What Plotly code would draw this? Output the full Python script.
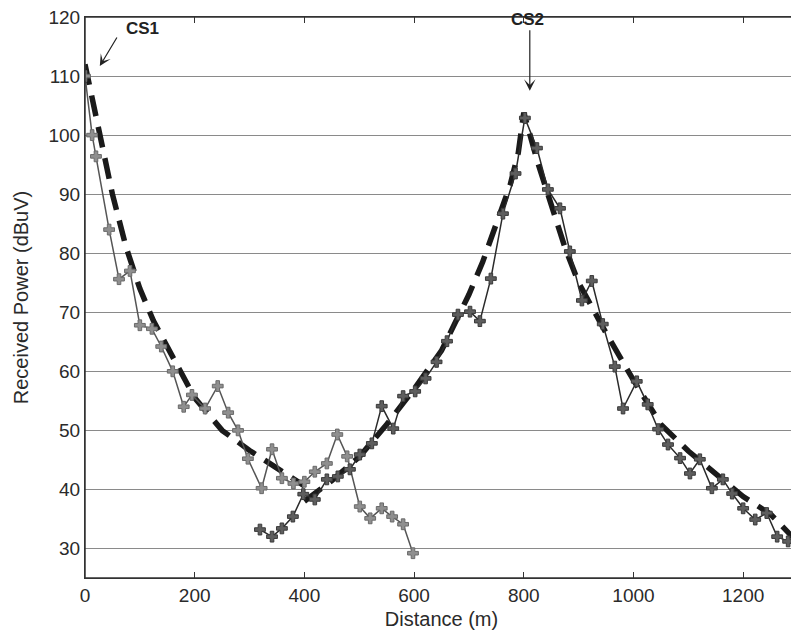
import plotly.graph_objects as go

# Measured received power, CS1 side (m, dBuV)
cs1_dist = [0, 13, 20, 44, 62, 82, 100, 122, 139, 160, 180, 195, 219, 242, 261, 279,
            297, 322, 341, 359, 380, 400, 419, 441, 460, 478, 501, 520, 541, 560, 580, 598]
cs1_power = [110, 100, 96.4, 84, 75.6, 77, 67.8, 67.2, 64.2, 60, 54, 56, 53.7, 57.5, 53, 50,
             45.2, 40.2, 46.8, 41.9, 41, 41.3, 43, 44.4, 49.3, 45.6, 37.1, 35.1, 36.8, 35.4, 34.1, 29.2]

# Measured received power, CS2 side
cs2_dist = [319, 341, 359, 379, 398, 419, 441, 461, 483, 501, 523, 541, 562, 580, 602, 621,
            641, 660, 680, 702, 720, 740, 762, 785, 802, 824, 844, 866, 884, 906, 924, 944,
            966, 981, 1006, 1026, 1045, 1063, 1085, 1103, 1121, 1143, 1163, 1180, 1200, 1222,
            1243, 1262, 1282, 1298]
cs2_power = [33.2, 32, 33.4, 35.4, 39.2, 38.3, 41.7, 42.2, 43.4, 45.9, 47.8, 54.1, 50.3, 55.8, 56.6, 58.8,
             61.6, 65.1, 69.6, 70.1, 68.5, 75.7, 86.7, 93.5, 102.9, 97.8, 90.8, 87.6, 80.3, 72, 75.3, 68,
             60.8, 53.7, 58.3, 54.4, 50.2, 47.6, 45.3, 42.7, 45.1, 40.2, 41.7, 39.3, 36.8, 34.9,
             36, 32, 31.2, 30.3]

# Model (dashed) curves
model1_dist = [0, 25, 50, 75, 100, 125, 150, 175, 200, 250, 300, 350, 400]
model1_power = [112, 101.5, 90, 81, 74, 68.5, 64, 60, 55.5, 50, 46.6, 43.6, 40.6]

model2_dist = [400, 450, 500, 550, 600, 650, 700, 725, 750, 775, 790, 800, 825, 850, 875, 900,
               950, 1000, 1050, 1100, 1150, 1200, 1250, 1300]
model2_power = [38, 41.5, 45.5, 51, 57, 63.5, 73, 78.5, 85, 91.5, 97, 103.8, 95.5, 88, 81, 75,
                66.5, 58.5, 51, 46.5, 42.5, 38.8, 35.8, 31]

x_ticks = [0, 200, 400, 600, 800, 1000, 1200]
y_ticks = [30, 40, 50, 60, 70, 80, 90, 100, 110, 120]

fig = go.Figure()

dash_style = "21px,11px"
fig.add_scatter(x=model1_dist, y=model1_power, mode="lines",
                line={"color": "#1a1a1a", "width": 5.5, "dash": dash_style})
fig.add_scatter(x=model2_dist, y=model2_power, mode="lines",
                line={"color": "#1a1a1a", "width": 5.5, "dash": dash_style})

fig.add_scatter(x=cs1_dist, y=cs1_power, mode="lines+markers",
                line={"color": "#555555", "width": 1.5},
                marker={"symbol": "cross", "size": 9, "color": "#8f8f8f",
                        "line": {"color": "#6a6a6a", "width": 1}})
fig.add_scatter(x=cs2_dist, y=cs2_power, mode="lines+markers",
                line={"color": "#2a2a2a", "width": 1.5},
                marker={"symbol": "cross", "size": 9, "color": "#5e5e5e",
                        "line": {"color": "#3a3a3a", "width": 1}})

# CS labels and arrows
fig.add_annotation(x=104, y=118, text="<b>CS1</b>", showarrow=False,
                   font={"size": 17, "color": "#222222"})
fig.add_annotation(x=27, y=111.7, text="", showarrow=True, ax=18, ay=-30,
                   arrowhead=3, arrowsize=1.6, arrowwidth=1.2, arrowcolor="#222222")
fig.add_annotation(x=806, y=1.016, yref="paper", yanchor="top", text="<b>CS2</b>",
                   showarrow=False, font={"size": 17, "color": "#222222"})
fig.add_annotation(x=811, y=107.5, text="", showarrow=True, ax=0, ay=-62,
                   arrowhead=3, arrowsize=1.6, arrowwidth=1.2, arrowcolor="#222222")

# frame round the plot area
fig.add_shape(type="rect", xref="paper", yref="paper", x0=0, x1=1, y0=0, y1=1,
              line={"color": "#333333", "width": 1.5}, layer="above")

# page body adds an 8px margin, so the figure is sized to fit inside it
fig.update_layout(
    width=791, height=622,
    margin={"l": 77, "r": 1, "t": 9, "b": 52},
    paper_bgcolor="white", plot_bgcolor="white",
    showlegend=False,
    font={"family": "Liberation Sans, Arial, sans-serif", "size": 19, "color": "#2a2a2a"},
)

fig.update_xaxes(
    range=[0, 1300], tickvals=x_ticks, showgrid=False, zeroline=False,
    showline=True, linecolor="#333333", linewidth=1.2, mirror="ticks",
    ticks="inside", ticklen=6, tickcolor="#333333", automargin=False,
    title={"text": "Distance (m)", "standoff": 16, "font": {"size": 20}},
)
fig.update_yaxes(
    range=[25, 120], tickvals=y_ticks, showgrid=True, gridcolor="#8a8a8a", gridwidth=1,
    zeroline=False, showline=True, linecolor="#333333", linewidth=1.2, mirror=True,
    ticks="", automargin=False, ticklabeloverflow="allow",
    title={"text": "Received Power (dBuV)", "standoff": 14, "font": {"size": 20}},
)

fig.write_html("out.html")
